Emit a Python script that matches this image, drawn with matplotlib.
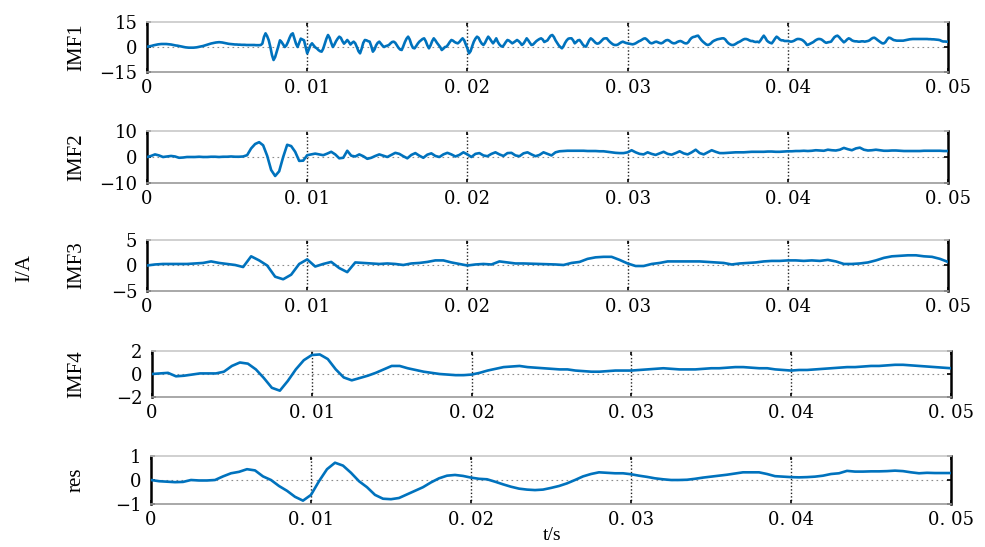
import matplotlib
matplotlib.use("Agg")
import matplotlib.pyplot as plt
import numpy as np

imf1 = [
    0.2, 0.3, 0.5, 0.7, 1.0, 1.2, 1.4, 1.6, 1.7, 1.8,
    1.8, 1.8, 1.8, 1.7, 1.6, 1.5, 1.3, 1.1, 0.9, 0.8,
    0.6, 0.4, 0.2, 0.0, -0.2, -0.3, -0.4, -0.4, -0.4, -0.4,
    -0.3, -0.2, 0.0, 0.2, 0.4, 0.6, 0.9, 1.2, 1.5, 1.8,
    2.1, 2.3, 2.5, 2.7, 2.8, 2.9, 2.8, 2.7, 2.5, 2.3,
    2.1, 1.9, 1.8, 1.7, 1.6, 1.5, 1.5, 1.4, 1.4, 1.3,
    1.3, 1.3, 1.2, 1.2, 1.2, 1.2, 1.2, 1.2, 1.1, 1.1,
    1.1, 1.2, 2.0, 6.0, 8.2, 6.5, 4.0, 0.0, -4.8, -7.8,
    -6.0, -2.8, 0.5, 4.0, 3.0, 1.5, 0.0, 1.0, 3.0, 5.5,
    7.5, 8.2, 5.0, 2.0, 0.0, 2.5, 5.0, 4.5, 4.0, 0.0,
    -3.8, -1.5, 1.0, 2.2, 1.0, -0.2, -0.8, -1.8, -2.5, -2.8,
    -1.0, 2.0, 5.0, 7.2, 5.5, 2.5, 0.0, 1.5, 3.5, 5.0,
    6.2, 5.5, 3.5, 2.0, 3.0, 4.2, 3.0, 1.5, 2.5, 3.2,
    2.2, 0.0, -2.5, -3.8, -1.0, 2.5, 4.2, 4.0, 3.5, 3.2,
    0.5, -2.8, -1.5, 1.0, 2.5, 3.2, 2.0, 0.8, 0.0, 0.5,
    0.8, 1.2, 2.2, 3.0, 3.2, 2.5, 1.0, -0.5, -1.5, -1.8,
    0.5, 3.0, 5.0, 6.2, 4.5, 1.5, -0.5, -0.8, 0.5, 2.0,
    3.2, 4.0, 4.8, 5.2, 3.5, 1.0, -0.8, 1.0, 3.5, 5.2,
    4.0, 2.5, 1.2, 0.0, -1.8, -1.0, 0.0, 0.2, 1.5, 3.0,
    4.2, 3.8, 3.0, 2.5, 2.2, 3.0, 4.2, 5.2, 4.0, 1.5,
    -0.8, -3.8, -2.5, 0.5, 3.2, 5.0, 6.2, 5.5, 3.5, 2.0,
    1.2, 2.5, 4.5, 6.2, 5.0, 3.5, 2.2, 3.5, 5.2, 3.0,
    1.5, 0.5, 0.2, 1.5, 3.0, 4.2, 3.8, 3.0, 2.2, 2.8,
    3.5, 4.2, 3.5, 2.5, 1.2, 2.0, 3.5, 5.2, 4.0, 2.5,
    1.2, 1.5, 2.5, 3.5, 4.2, 4.8, 5.2, 4.5, 3.0, 3.5,
    4.0, 5.5, 6.8, 7.2, 6.0, 4.0, 2.5, 1.0, 0.0, -0.8,
    0.5, 2.5, 4.0, 5.0, 5.2, 5.2, 4.0, 2.2, 3.0, 4.0,
    4.2, 3.0, 1.5, 0.5, 0.2, 2.0, 4.0, 5.2, 4.5, 3.5,
    2.5, 2.0, 2.2, 3.0, 4.0, 5.0, 5.2, 5.2, 4.0, 3.0,
    2.2, 1.5, 1.2, 1.2, 1.5, 2.2, 2.8, 3.2, 2.8, 2.4,
    2.2, 2.0, 1.8, 1.6, 1.8, 2.2, 2.8, 3.4, 3.8, 4.4,
    5.0, 5.2, 4.5, 3.5, 2.5, 2.2, 2.5, 3.0, 3.2, 2.8,
    2.4, 2.2, 2.6, 3.4, 4.0, 4.2, 3.8, 3.0, 2.4, 2.2,
    2.4, 3.0, 3.4, 3.6, 3.2, 2.6, 2.2, 2.2, 3.0, 4.5,
    5.5, 6.0, 6.2, 6.6, 6.8, 5.5, 4.2, 3.2, 2.4, 1.6,
    1.2, 1.5, 2.2, 3.2, 3.8, 4.2, 4.6, 4.8, 5.0, 5.2,
    5.2, 4.5, 3.2, 2.2, 1.6, 1.2, 1.2, 1.6, 2.2, 2.8,
    3.2, 3.8, 4.4, 4.8, 4.8, 4.5, 4.0, 3.6, 3.6, 3.2,
    3.0, 3.2, 2.8, 4.0, 5.5, 6.8, 5.5, 3.8, 3.0, 2.5,
    2.2, 3.5, 5.0, 6.2, 5.5, 4.5, 4.0, 4.0, 3.6, 3.6,
    3.6, 3.4, 3.2, 3.4, 3.8, 4.4, 4.8, 4.8, 4.6, 4.2,
    3.5, 2.5, 1.2, 1.5, 2.0, 2.5, 3.0, 3.8, 4.4, 4.8,
    4.8, 4.5, 3.8, 3.0, 2.5, 2.8, 3.0, 3.2, 4.5, 5.8,
    6.5, 6.8, 6.0, 4.8, 3.8, 2.8, 3.5, 4.5, 5.2, 4.8,
    4.0, 3.6, 3.4, 3.4, 3.2, 3.2, 3.4, 3.4, 3.2, 3.4,
    3.6, 4.0, 4.8, 5.4, 5.6, 5.0, 4.2, 3.5, 2.8, 2.2,
    2.2, 3.0, 4.5, 5.6, 5.4, 4.8, 4.2, 4.0, 3.8, 3.8,
    3.8, 3.8, 3.8, 4.0, 4.2, 4.4, 4.6, 4.7, 4.8, 4.8,
    4.8, 4.8, 4.8, 4.8, 4.8, 4.8, 4.8, 4.8, 4.7, 4.7,
    4.6, 4.6, 4.5, 4.4, 4.3, 4.1, 3.6, 3.3, 3.3, 3.2,
    3.2,
]

imf2 = [
    0.0, 0.4, 1.0, 0.6, 0.0, 0.2, 0.4, 0.2, -0.3, -0.2, 0.0, 0.0,
    0.0, 0.1, 0.0, 0.0, 0.1, 0.1, 0.0, 0.1, 0.1, 0.2, 0.1, 0.1,
    0.2, 0.7, 3.3, 5.0, 5.7, 4.5, 0.5, -5.0, -7.3, -5.5, 0.0, 4.7,
    4.2, 2.0, -1.5, -1.4, 0.7, 1.0, 1.3, 1.0, 0.7, 1.3, 2.0, 1.0,
    -0.5, -0.3, 2.4, 0.5, 0.2, 1.0, 0.3, -0.7, -0.3, 0.4, 1.0, 0.5,
    0.0, 0.8, 1.6, 1.2, 0.3, -0.5, 0.8, 1.5, 0.5, -0.3, 0.9, 1.4,
    0.4, 0.0, 1.0, 1.6, 1.0, 0.2, 0.8, 1.8, 1.0, 0.0, 1.2, 1.5,
    0.6, 0.3, 1.2, 1.8, 1.0, 0.4, 1.5, 1.6, 0.6, 0.3, 1.4, 1.8,
    1.0, 0.3, 0.8, 1.8, 1.2, 0.6, 1.8, 2.2, 2.3, 2.4, 2.4, 2.4,
    2.4, 2.4, 2.3, 2.3, 2.3, 2.2, 2.2, 2.0, 1.8, 1.6, 1.5, 1.5,
    1.8, 2.6, 1.8, 1.2, 1.0, 1.8, 1.2, 0.8, 1.4, 2.0, 1.2, 0.9,
    1.5, 2.2, 1.4, 1.0, 1.8, 2.8, 1.5, 1.0, 1.8, 2.6, 2.0, 1.5,
    1.5, 1.6, 1.7, 1.8, 1.8, 1.8, 1.9, 2.0, 2.0, 2.0, 2.0, 2.1,
    2.1, 2.0, 2.0, 2.1, 2.2, 2.2, 2.3, 2.3, 2.4, 2.3, 2.4, 2.6,
    2.5, 2.4, 2.8, 2.6, 2.5, 2.8, 3.5, 3.0, 2.6, 3.3, 3.6, 2.8,
    2.5, 2.6, 2.8, 2.6, 2.4, 2.4, 2.5, 2.5, 2.4, 2.3, 2.3, 2.3,
    2.3, 2.3, 2.4, 2.4, 2.4, 2.4, 2.4, 2.3,
    2.3,
]

imf3 = [
    0.0, 0.2, 0.3, 0.3, 0.3, 0.3, 0.4, 0.5, 0.8, 0.5,
    0.3, 0.1, -0.3, 1.8, 1.0, 0.0, -2.2, -2.7, -1.8, 0.3,
    1.2, -0.2, 0.3, 0.7, -0.5, -1.3, 0.6, 0.5, 0.4, 0.3,
    0.4, 0.3, 0.1, 0.4, 0.5, 0.7, 1.0, 1.0, 0.6, 0.3,
    0.0, 0.2, 0.3, 0.2, 0.8, 0.6, 0.4, 0.4, 0.35, 0.3,
    0.25, 0.2, 0.1, 0.5, 0.7, 1.3, 1.6, 1.7, 1.7, 1.1,
    0.4, -0.1, -0.1, 0.3, 0.5, 0.8, 0.8, 0.8, 0.8, 0.8,
    0.7, 0.6, 0.5, 0.2, 0.4, 0.5, 0.6, 0.8, 0.9, 0.9,
    1.0, 1.0, 0.9, 1.0, 0.9, 1.1, 0.8, 0.3, 0.3, 0.4,
    0.6, 1.0, 1.5, 1.8, 1.9, 2.0, 2.0, 1.8, 1.7, 1.3,
    0.7,
]

imf4 = [
    0.0, 0.05, 0.1, -0.2, -0.15, -0.05, 0.05, 0.05, 0.05, 0.2,
    0.7, 1.0, 0.9, 0.4, -0.35, -1.2, -1.45, -0.6, 0.4, 1.2,
    1.65, 1.7, 1.3, 0.4, -0.3, -0.55, -0.35, -0.15, 0.1, 0.4,
    0.7, 0.7, 0.5, 0.35, 0.2, 0.1, 0.0, -0.05, -0.1, -0.1,
    -0.05, 0.1, 0.3, 0.45, 0.6, 0.65, 0.7, 0.6, 0.55, 0.5,
    0.45, 0.4, 0.4, 0.3, 0.25, 0.2, 0.2, 0.25, 0.3, 0.3,
    0.3, 0.35, 0.4, 0.45, 0.5, 0.45, 0.4, 0.4, 0.4, 0.45,
    0.5, 0.5, 0.55, 0.6, 0.6, 0.55, 0.5, 0.5, 0.4, 0.35,
    0.3, 0.35, 0.35, 0.4, 0.45, 0.5, 0.55, 0.6, 0.6, 0.65,
    0.7, 0.7, 0.75, 0.8, 0.8, 0.75, 0.7, 0.65, 0.6, 0.55,
    0.5,
]

res = [
    0.0, -0.05, -0.07, -0.09, -0.08, 0.0, -0.02, -0.02, 0.0, 0.15,
    0.28, 0.34, 0.45, 0.4, 0.15, 0.0, -0.25, -0.45, -0.7, -0.86,
    -0.62, -0.05, 0.45, 0.72, 0.6, 0.3, -0.05, -0.3, -0.62, -0.78,
    -0.8, -0.75, -0.6, -0.45, -0.3, -0.1, 0.07, 0.18, 0.21, 0.17,
    0.1, 0.05, 0.03, -0.07, -0.18, -0.28, -0.36, -0.4, -0.42, -0.4,
    -0.33, -0.25, -0.14, 0.0, 0.15, 0.25, 0.32, 0.3, 0.28, 0.28,
    0.24, 0.18, 0.13, 0.07, 0.03, 0.0, 0.0, 0.01, 0.05, 0.1,
    0.14, 0.18, 0.22, 0.27, 0.32, 0.32, 0.32, 0.25, 0.16, 0.14,
    0.12, 0.11, 0.12, 0.14, 0.18, 0.25, 0.28, 0.38, 0.35, 0.35,
    0.36, 0.36, 0.37, 0.39, 0.37, 0.32, 0.28, 0.3, 0.29, 0.29,
    0.29,
]

panel_names = ["IMF1", "IMF2", "IMF3", "IMF4", "res"]
panel_limits = [15, 10, 5, 2, 1]
x_ticks = [0, 0.01, 0.02, 0.03, 0.04, 0.05]
x_tick_labels = ["0", "0. 01", "0. 02", "0. 03", "0. 04", "0. 05"]

# axes boxes in pixels (left, top, right, bottom) on a 985x547 canvas
BOXES = [
    (147, 22, 948, 72),
    (147, 131, 948, 183),
    (147, 240, 948, 291),
    (152, 351, 951, 397),
    (151, 456, 951, 504),
]
W, H = 985, 547
LINE_COLOR = "#0072BD"
TICK_FONT = "DejaVu Serif"
LABEL_FONT = "Liberation Serif"


def fmt(v):
    return "\u2212" + str(abs(v)) if v < 0 else str(v)


fig = plt.figure(figsize=(W / 100, H / 100), dpi=100)

for series, name, lim, (l, t, r, b) in zip(
    [imf1, imf2, imf3, imf4, res], panel_names, panel_limits, BOXES
):
    ax = fig.add_axes([l / W, 1 - b / H, (r - l) / W, (b - t) / H])
    time = np.linspace(0, 0.05, len(series))

    for xv in x_ticks[1:-1]:
        ax.axvline(xv, color="#222222", linestyle=(0, (1, 1.5)), linewidth=1.0, zorder=1)
    ax.axhline(0, color="#8c8c8c", linestyle=(0, (1.5, 3)), linewidth=0.8, zorder=1)

    ax.plot(time, series, color=LINE_COLOR, linewidth=1.9, zorder=3)

    ax.set_xlim(0, 0.05)
    ax.set_ylim(-lim, lim)
    ax.set_xticks(x_ticks)
    ax.set_xticklabels(x_tick_labels, fontfamily=TICK_FONT, fontsize=13)
    ax.set_yticks([-lim, 0, lim])
    ax.set_yticklabels([fmt(-lim), "0", fmt(lim)], fontfamily=TICK_FONT, fontsize=13)
    ax.tick_params(axis="both", direction="in", length=3, width=1.2, color="black",
                   top=True, right=True)
    ax.tick_params(axis="x", pad=5)
    ax.tick_params(axis="y", pad=7)

    for side in ["left", "right"]:
        ax.spines[side].set_color("black")
        ax.spines[side].set_linewidth(1.8)
    ax.spines["top"].set_color("#c8c8c8")
    ax.spines["bottom"].set_color("#9a9a9a")
    for side in ["top", "bottom"]:
        ax.spines[side].set_linewidth(1.2)

    ax.set_ylabel(name, fontfamily=LABEL_FONT, fontsize=15)
    ax.yaxis.set_label_coords((86 - l) / (r - l), 0.5)

fig.text(25 / W, 1 - 268 / H, "I/A", rotation=90, ha="center", va="center",
         fontfamily=LABEL_FONT, fontsize=15)
fig.text(552 / W, 3 / H, "t/s", ha="center", va="bottom",
         fontfamily=LABEL_FONT, fontsize=14)

fig.savefig("out.png", dpi=100)
